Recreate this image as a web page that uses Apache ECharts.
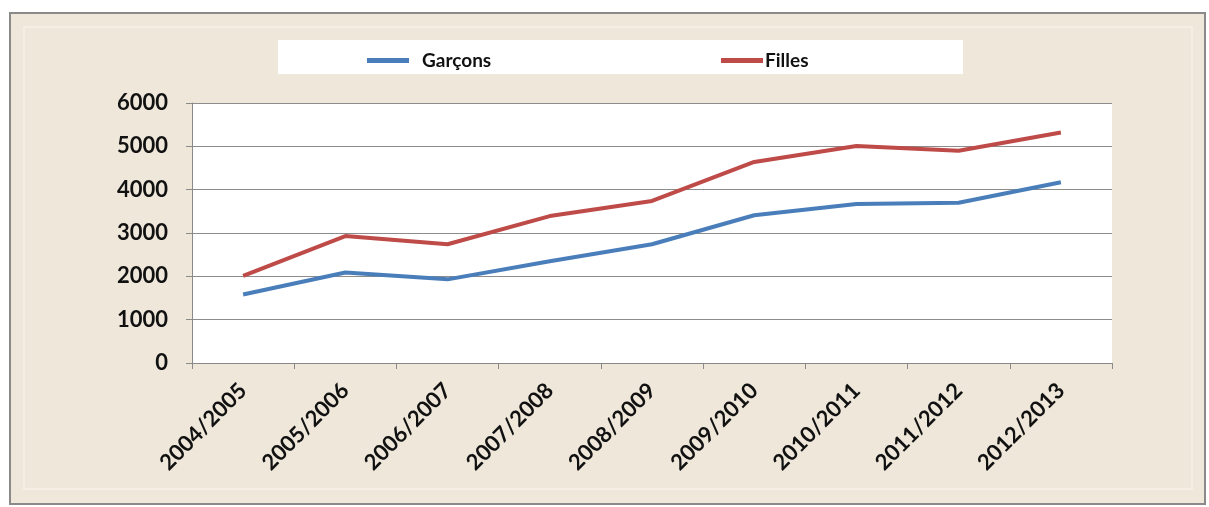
<!DOCTYPE html>
<html>
<head>
<meta charset="utf-8">
<script src="https://cdn.jsdelivr.net/npm/echarts@6/dist/echarts.min.js"></script>
<style>
  html, body { margin: 0; padding: 0; background: #fff; }
  #chart { width: 1209px; height: 507px; }
</style>
</head>
<body>
<div id="chart"></div>
<script>
const years = ['2004/2005', '2005/2006', '2006/2007', '2007/2008', '2008/2009',
  '2009/2010', '2010/2011', '2011/2012', '2012/2013']
const garcons = [1580, 2090, 1930, 2350, 2740, 3410, 3670, 3700, 4170]
const filles = [2010, 2930, 2740, 3390, 3740, 4640, 5010, 4900, 5320]

const BLUE = '#4a7ebb'
const RED = '#be4b48'
const FONT = 'Lato'

const chart = echarts.init(document.getElementById('chart'), null, { renderer: 'canvas' })

const legendText = { color: '#111', fontFamily: FONT, fontWeight: 'bold', fontSize: 19 }

chart.setOption({
  backgroundColor: '#fff',
  animation: false,
  graphic: [
    // outer frame, beige paper
    { type: 'rect', z: -10, shape: { x: 10, y: 13, width: 1195, height: 491 },
      style: { fill: '#eee7da', stroke: '#8a8a8a', lineWidth: 2 } },
    { type: 'rect', z: -9, shape: { x: 24, y: 27, width: 1168, height: 462 },
      style: { fill: 'none', stroke: '#f6f1e8', lineWidth: 1.5 } },
    // legend box
    { type: 'rect', z: -5, shape: { x: 278, y: 40, width: 685, height: 34 },
      style: { fill: '#ffffff' } },
  ],
  legend: [
    {
      data: ['Garçons'], left: 362, top: 46, icon: 'rect',
      itemWidth: 42, itemHeight: 5, itemGap: 0,
      textStyle: Object.assign({ padding: [0, 0, 0, 8] }, legendText),
    },
    {
      data: ['Filles'], left: 716, top: 46, icon: 'rect',
      itemWidth: 42, itemHeight: 5, itemGap: 0,
      textStyle: Object.assign({ padding: [0, 0, 0, -3] }, legendText),
    },
  ],
  grid: {
    left: 192, right: 97, top: 103, bottom: 144,
    show: true, backgroundColor: '#ffffff', borderWidth: 0,
  },
  xAxis: {
    type: 'category',
    data: years,
    boundaryGap: true,
    axisLine: { lineStyle: { color: '#8a8a8a', width: 1 } },
    axisTick: { show: true, length: 6, lineStyle: { color: '#8a8a8a' } },
    axisLabel: {
      rotate: 45, margin: 24, color: '#111',
      fontFamily: FONT, fontWeight: 'bold', fontSize: 22,
    },
  },
  yAxis: {
    type: 'value',
    min: 0, max: 6000, interval: 1000,
    axisLine: { show: true, lineStyle: { color: '#8a8a8a', width: 1 } },
    axisTick: { show: true, length: 6, lineStyle: { color: '#8a8a8a' } },
    axisLabel: {
      margin: 24, color: '#111',
      fontFamily: FONT, fontWeight: 'bold', fontSize: 22,
      formatter: v => String(v),
    },
    splitLine: { lineStyle: { color: '#8c8c8c', width: 1 } },
  },
  series: [
    {
      name: 'Garçons', type: 'line', data: garcons,
      color: BLUE, showSymbol: false, symbol: 'none',
      lineStyle: { width: 4, color: BLUE },
    },
    {
      name: 'Filles', type: 'line', data: filles,
      color: RED, showSymbol: false, symbol: 'none',
      lineStyle: { width: 4, color: RED },
    },
  ],
})
</script>
</body>
</html>
